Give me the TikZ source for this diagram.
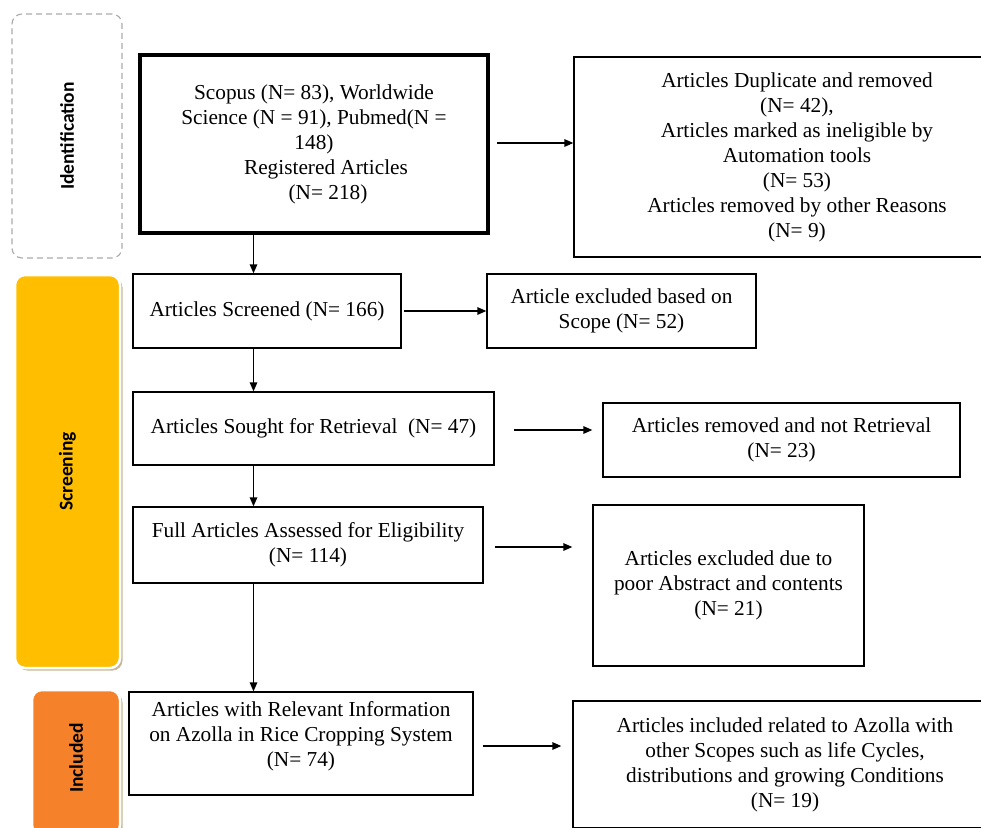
\documentclass[tikz,border=0pt]{standalone}
\usepackage{fontspec}
\setmainfont{Liberation Serif}
\newfontfamily\labfont{Carlito}
\usetikzlibrary{arrows.meta,shadows}
\definecolor{scrfill}{RGB}{255,191,0}
\definecolor{incfill}{RGB}{245,130,42}
\definecolor{shadowtan}{RGB}{200,184,150}
\definecolor{dashgray}{RGB}{170,170,170}
\begin{document}
\begin{tikzpicture}[x=1pt,y=-1pt,
  box/.style={draw=black, line width=1.3pt, inner sep=0pt, align=center,
    font=\rmfamily\fontsize{21.3}{25}\selectfont},
  arr/.style={-{Triangle[length=9pt,width=7.5pt]}, line width=1.4pt},
  panel/.style={rounded corners=10pt, draw=white, line width=2.5pt,
    drop shadow={shadow xshift=2.5pt, shadow yshift=-2.5pt, fill=shadowtan, opacity=1}},
  panellabel/.style={rotate=90, font=\labfont\fontsize{19.5}{22}\selectfont\bfseries},
]
\useasboundingbox (0,0) rectangle (981,827);

% side panels
\node[draw=dashgray, line width=1.1pt, dash pattern=on 6pt off 4pt, rounded corners=10pt,
  minimum width=110pt, minimum height=244pt] (idp) at (67,136) {};
\node[panellabel] at (idp.center) {Identification};

\node[panel, fill=scrfill, minimum width=105pt, minimum height=393pt] (scp) at (67.5,471.5) {};
\node[panellabel] at (scp.center) {Screening};

\node[panel, fill=incfill, minimum width=88pt, minimum height=145pt] (incp) at (76,762.5) {};
\node[panellabel] at ([yshift=4.5pt]incp.center) {Included};

% boxes
\node[box, line width=3.5pt, minimum width=348pt, minimum height=178pt] (main) at (314,144)
  {Scopus (N= 83), Worldwide\\ Science (N = 91), Pubmed(N =\\ 148)\\
   \hspace*{24pt}Registered Articles\\ \hspace*{28pt}(N= 218)};
\node[box, minimum width=446pt, minimum height=200pt] (r1) at (797,157)
  {Articles Duplicate and removed\\ (N= 42),\\ Articles marked as ineligible by\\
   Automation tools\\ (N= 53)\\ Articles removed by other Reasons\\ (N= 9)};
\node[box, minimum width=268pt, minimum height=74pt] (scr) at (267,311)
  {Articles Screened (N= 166)};
\node[box, minimum width=269pt, minimum height=74pt] (scope) at (621.5,311)
  {Article excluded based on\\ Scope (N= 52)};
\node[box, minimum width=361pt, minimum height=73pt] (sought) at (313.5,428.5)
  {Articles Sought for Retrieval\ \ (N= 47)};
\node[box, minimum width=357pt, minimum height=74pt] (notret) at (781.5,440)
  {Articles removed and not Retrieval\\ (N= 23)};
\node[box, minimum width=350pt, minimum height=76pt] (full) at (308,545)
  {Full Articles Assessed for Eligibility\\ (N= 114)};
\node[box, minimum width=271pt, minimum height=161pt] (poor) at (728.5,585.5)
  {Articles excluded due to\\ poor Abstract and contents\\ (N= 21)};
\node[box, minimum width=344pt, minimum height=103pt] (rel) at (301,743.5) {};
\node[box, draw=none] (relt) at ([yshift=7.5pt]rel.center)
  {Articles with Relevant Information\\ on Azolla in Rice Cropping System\\ (N= 74)};
\node[box, minimum width=424pt, minimum height=127pt] (last) at (785,764.5)
  {Articles included related to Azolla with\\ other Scopes such as life Cycles,\\
   distributions and growing Conditions\\ (N= 19)};

% connectors
\coordinate (vx) at (253.5,0);
\draw[arr] (main.south -| vx) -- (scr.north -| vx);
\draw[arr] (scr.south -| vx) -- (sought.north -| vx);
\draw[arr] (sought.south -| vx) -- (full.north -| vx);
\draw[arr] (full.south -| vx) -- (rel.north -| vx);

\draw[arr] ([xshift=7pt,yshift=1pt]main.east) -- ([yshift=1pt]main.east -| r1.west);
\draw[arr] ([xshift=2pt]scr.east) -- (scr.east -| scope.west);
\draw[arr] ([xshift=19pt,yshift=-1.5pt]sought.east) -- ([xshift=-10pt,yshift=-1.5pt]sought.east -| notret.west);
\draw[arr] ([xshift=11pt,yshift=-2pt]full.east) -- ([xshift=-20pt,yshift=-2pt]full.east -| poor.west);
\draw[arr] ([xshift=9pt,yshift=-2.5pt]rel.east) -- ([xshift=-11pt,yshift=-2.5pt]rel.east -| last.west);
\end{tikzpicture}
\end{document}
